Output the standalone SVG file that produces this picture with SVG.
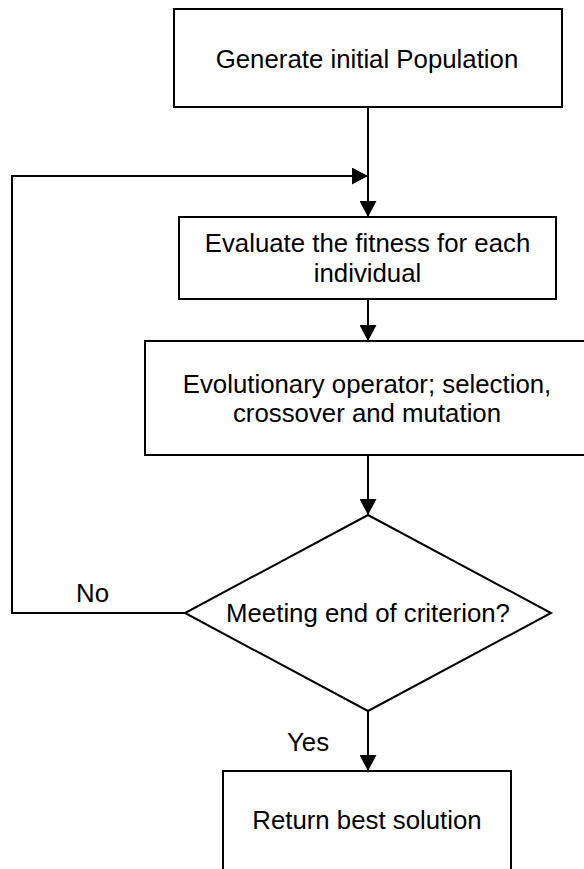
<svg xmlns="http://www.w3.org/2000/svg" width="584" height="869" viewBox="0 0 584 869">
<defs>
<style>
.box{fill:#fff;stroke:#000;stroke-width:2}
.ln{fill:none;stroke:#000;stroke-width:2}
text{font-family:"Liberation Sans",Arial,sans-serif;font-size:25.8px;fill:#000}
.c{text-anchor:middle}
</style>
<marker id="ah" viewBox="0 0 16 17" refX="16" refY="8.5" markerWidth="16" markerHeight="17" markerUnits="userSpaceOnUse" orient="auto">
<path d="M0,0 L16,8.5 L0,17 Z" fill="#000"/>
</marker>
</defs>
<rect width="584" height="869" fill="#fff"/>
<g id="connectors">
<line class="ln" x1="368" y1="107" x2="368" y2="217" marker-end="url(#ah)"/>
<polyline class="ln" points="185,613 12,613 12,176 368,176" marker-end="url(#ah)"/>
<line class="ln" x1="368" y1="299" x2="368" y2="341" marker-end="url(#ah)"/>
<line class="ln" x1="368" y1="455" x2="368" y2="515" marker-end="url(#ah)"/>
<line class="ln" x1="368" y1="711" x2="368" y2="771" marker-end="url(#ah)"/>
<text x="76" y="602">No</text>
<text x="287" y="751">Yes</text>
</g>
<g id="start">
<rect class="box" x="174" y="9" width="388" height="98"/>
<text class="c" x="367" y="68">Generate initial Population</text>
</g>
<g id="evaluate">
<rect class="box" x="179" y="217" width="377" height="82"/>
<text class="c" x="367.5" y="252">Evaluate the fitness for each</text>
<text class="c" x="367.5" y="282">individual</text>
</g>
<g id="operator">
<rect class="box" x="145" y="341" width="445" height="114"/>
<text class="c" x="367" y="393">Evolutionary operator; selection,</text>
<text class="c" x="367" y="422">crossover and mutation</text>
</g>
<g id="decision">
<polygon class="box" points="368,515 551,613 368,711 185,613"/>
<text class="c" x="368" y="622">Meeting end of criterion?</text>
</g>
<g id="end">
<rect class="box" x="223" y="771" width="288" height="110"/>
<text class="c" x="367" y="829">Return best solution</text>
</g>
</svg>
